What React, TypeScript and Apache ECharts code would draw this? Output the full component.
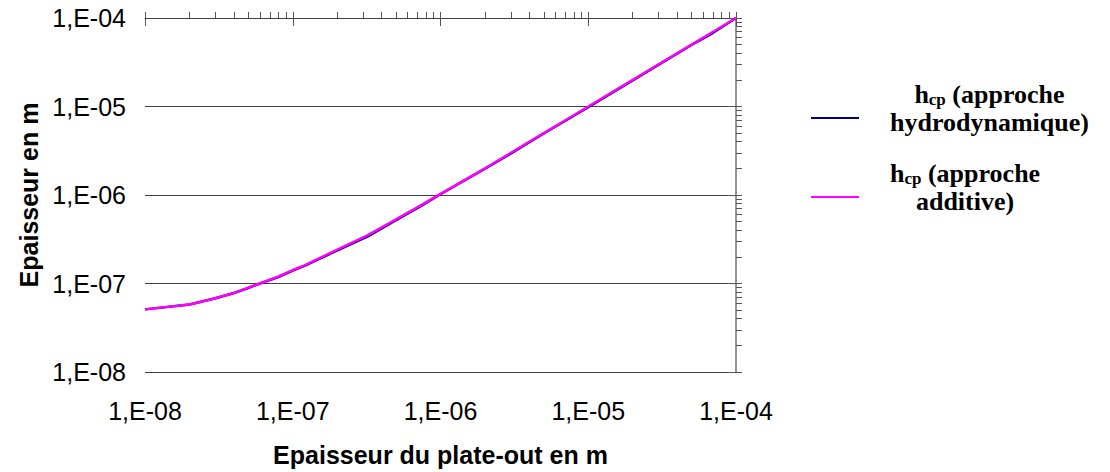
import React, { useEffect, useRef } from "react";
import * as echarts from "echarts";

// ---- data ----
const xValues = [
  1e-8, 2e-8, 3e-8, 4e-8, 5e-8, 6e-8, 8e-8, 1e-7, 1.2e-7, 1.8e-7, 2.5e-7, 3.2e-7,
  4.8e-7, 7.3e-7, 1e-6, 2e-6, 3e-6, 5e-6, 7e-6, 1e-5, 2e-5, 3e-5, 5e-5, 7e-5, 1e-4,
];
const hydroValues = [
  5.1e-8, 5.8e-8, 6.8e-8, 7.8e-8, 8.9e-8, 1.0e-7, 1.18e-7, 1.4e-7, 1.58e-7, 2.18e-7, 2.8e-7, 3.38e-7,
  5.0e-7, 7.45e-7, 1.02e-6, 1.98e-6, 2.95e-6, 4.95e-6, 6.9e-6, 9.8e-6, 1.97e-5, 2.97e-5, 4.95e-5, 6.8e-5, 1.0e-4,
];
const additiveValues = [
  5.1e-8, 5.8e-8, 6.8e-8, 7.8e-8, 9.0e-8, 1.0e-7, 1.2e-7, 1.42e-7, 1.6e-7, 2.22e-7, 2.88e-7, 3.5e-7,
  5.1e-7, 7.6e-7, 1.03e-6, 2.0e-6, 3.0e-6, 5.0e-6, 7.0e-6, 1.0e-5, 2.0e-5, 3.0e-5, 5.0e-5, 7.0e-5, 1.0e-4,
];
const seriesNames = ["hcp (approche hydrodynamique)", "hcp (approche additive)"];
const decadeTicks = [1e-8, 1e-7, 1e-6, 1e-5, 1e-4];
const xTickLabels = ["1,E-08", "1,E-07", "1,E-06", "1,E-05", "1,E-04"];
const yTickLabels = ["1,E-08", "1,E-07", "1,E-06", "1,E-05", "1,E-04"];
const minorMultipliers = [1, 2, 3, 4, 5, 6, 7, 8, 9];
const xTitle = "Epaisseur du plate-out en m";
const yTitle = "Epaisseur en m";

const allTicks = decadeTicks
  .slice(0, -1)
  .flatMap((d) => minorMultipliers.map((m) => m * d))
  .concat([decadeTicks[decadeTicks.length - 1]]);

const labelFor = (labels: string[]) => (v: number) => {
  const i = decadeTicks.findIndex((d) => Math.abs(Math.log10(d) - Math.log10(v)) < 1e-6);
  return i >= 0 ? labels[i] : "";
};

const SANS = "'Liberation Sans', Arial, sans-serif";
const SERIF = "'Liberation Serif', 'Times New Roman', serif";

export default function App() {
  const ref = useRef<HTMLDivElement>(null);
  useEffect(() => {
    document.body.style.margin = "0";
    if (!ref.current) return;
    const chart = echarts.init(ref.current, null, { renderer: "svg" });
    const min = decadeTicks[0];
    const max = decadeTicks[decadeTicks.length - 1];
    const richBase = { fontFamily: SERIF, fontWeight: "bold", fontSize: 26, lineHeight: 28, color: "#000", align: "center" };
    chart.setOption({
      animation: false,
      backgroundColor: "#fff",
      grid: { left: 145, top: 18, right: 374, bottom: 99, containLabel: false },
      legend: {
        orient: "vertical",
        left: 811,
        top: 81,
        itemWidth: 48,
        itemHeight: 2,
        itemGap: 25,
        padding: 0,
        icon: "rect",
        selectedMode: false,
        data: seriesNames,
        formatter: (name: string) =>
          name === seriesNames[0]
            ? "{b|h}{s|cp}{b| (approche}\n{b|hydrodynamique)}"
            : "{b|h}{s|cp}{b| (approche}\n{b|additive)}",
        textStyle: {
          padding: [0, 0, 20, 26],
          rich: {
            b: richBase,
            s: { ...richBase, fontSize: 17, lineHeight: 28, verticalAlign: "bottom" },
          },
        },
      },
      xAxis: [
        {
          type: "log",
          min,
          max,
          position: "bottom",
          axisLine: { show: false },
          axisTick: { show: false },
          splitLine: { show: false },
          axisLabel: {
            formatter: labelFor(xTickLabels),
            fontFamily: SANS,
            fontSize: 25,
            color: "#000",
            margin: 26,
          },
          name: xTitle,
          nameLocation: "middle",
          nameGap: 70,
          nameTextStyle: { fontFamily: SANS, fontSize: 25, fontWeight: "bold", color: "#000" },
        },
        {
          type: "log",
          min,
          max,
          position: "top",
          axisLine: { show: true, lineStyle: { color: "#404040", width: 1 } },
          axisTick: { show: true, inside: true, length: 8, lineStyle: { color: "#555" } },
          axisLabel: { show: false },
          splitLine: { show: false },
        },
        {
          type: "log",
          min,
          max,
          position: "top",
          axisLine: { show: false },
          axisTick: { show: true, inside: false, length: 6, customValues: allTicks, lineStyle: { color: "#555" } },
          axisLabel: { show: false },
          splitLine: { show: false },
        },
      ],
      yAxis: [
        {
          type: "log",
          min,
          max,
          position: "left",
          axisLine: { show: false },
          axisTick: { show: false },
          splitLine: { show: true, lineStyle: { color: "#404040", width: 1 } },
          axisLabel: {
            formatter: labelFor(yTickLabels),
            fontFamily: SANS,
            fontSize: 25,
            color: "#000",
            margin: 19,
          },
          name: yTitle,
          nameLocation: "middle",
          nameGap: 102,
          nameRotate: 90,
          nameTextStyle: { fontFamily: SANS, fontSize: 25, fontWeight: "bold", color: "#000" },
        },
        {
          type: "log",
          min,
          max,
          position: "right",
          axisLine: { show: true, lineStyle: { color: "#707070", width: 1.5 } },
          axisTick: { show: true, inside: true, length: 8, lineStyle: { color: "#555" } },
          axisLabel: { show: false },
          splitLine: { show: false },
        },
        {
          type: "log",
          min,
          max,
          position: "right",
          axisLine: { show: false },
          axisTick: { show: true, inside: false, length: 6, customValues: allTicks, lineStyle: { color: "#555" } },
          axisLabel: { show: false },
          splitLine: { show: false },
        },
      ],
      series: [
        {
          name: seriesNames[0],
          type: "line",
          xAxisIndex: 0,
          yAxisIndex: 0,
          showSymbol: false,
          color: "#000080",
          lineStyle: { color: "#000080", width: 2.5 },
          data: xValues.map((x, i) => [x, hydroValues[i]]),
        },
        {
          name: seriesNames[1],
          type: "line",
          xAxisIndex: 0,
          yAxisIndex: 0,
          showSymbol: false,
          color: "#FF00FF",
          lineStyle: { color: "#FF00FF", width: 2.5 },
          data: xValues.map((x, i) => [x, additiveValues[i]]),
        },
      ],
    });
    return () => chart.dispose();
  }, []);
  return <div ref={ref} style={{ width: 1110, height: 472 }} />;
}
